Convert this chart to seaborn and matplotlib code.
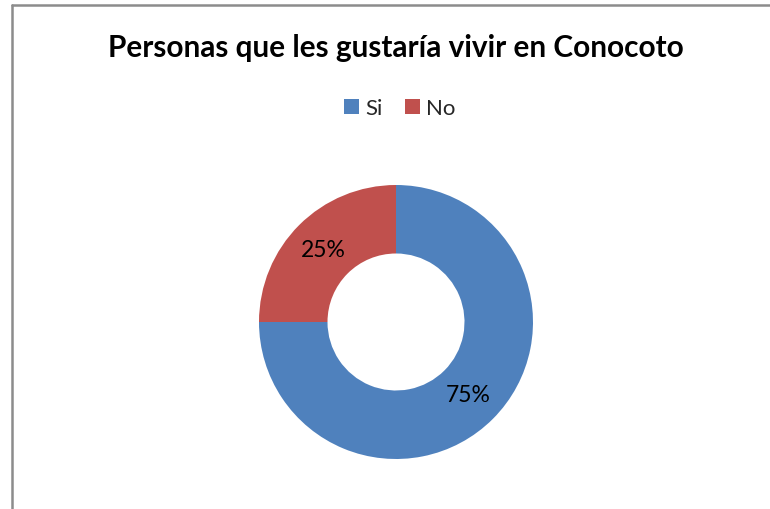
import matplotlib
matplotlib.use("Agg")
import matplotlib.pyplot as plt
from matplotlib.lines import Line2D
from matplotlib.patches import Rectangle
import seaborn as sns

categories = ["Si", "No"]
values = [75, 25]
colors = ["#4F81BD", "#C0504D"]
title = "Personas que les gustaría vivir en Conocoto"

sns.set_theme(style="white")
plt.rcParams['font.family'] = ['Lato', 'DejaVu Sans']

W, H = 770, 510
fig = plt.figure(figsize=(W / 100, H / 100), dpi=100)
fig.patch.set_facecolor("white")

cx, cy, r = 396, 323, 137
ax = fig.add_axes([(cx - r) / W, (H - cy - r) / H, 2 * r / W, 2 * r / H])
pal = sns.color_palette(colors)
wedges, texts, autotexts = ax.pie(
    values, colors=pal, startangle=90, counterclock=False,
    radius=1, wedgeprops=dict(width=0.5, edgecolor="none"),
    autopct=lambda p: f"{p:.0f}%", pctdistance=0.75,
    textprops=dict(fontsize=16.5, color="black"))
ax.set_xlim(-1, 1)
ax.set_ylim(-1, 1)
ax.set_aspect("equal")
ax.axis("off")

fig.text(396 / W, 1 - 48 / H, title, ha="center", va="center",
         fontsize=21.4, fontweight="bold", color="black")

handles = [Rectangle((0, 0), 1, 1, facecolor=c, edgecolor="none") for c in colors]
fig.legend(handles, categories, loc="center", bbox_to_anchor=(400 / W, 1 - 109 / H),
           ncol=2, frameon=False, fontsize=16, handlelength=0.65, handleheight=0.65,
           handletextpad=0.3, columnspacing=1.0)

fig.add_artist(Line2D([11.5 / W, 11.5 / W], [0, 1 - 6 / H], color="#8c8c8c", lw=1.8))
fig.add_artist(Line2D([11.5 / W, 1], [1 - 6 / H, 1 - 6 / H], color="#8c8c8c", lw=1.8))

fig.savefig("out.png", dpi=100, facecolor="white")
